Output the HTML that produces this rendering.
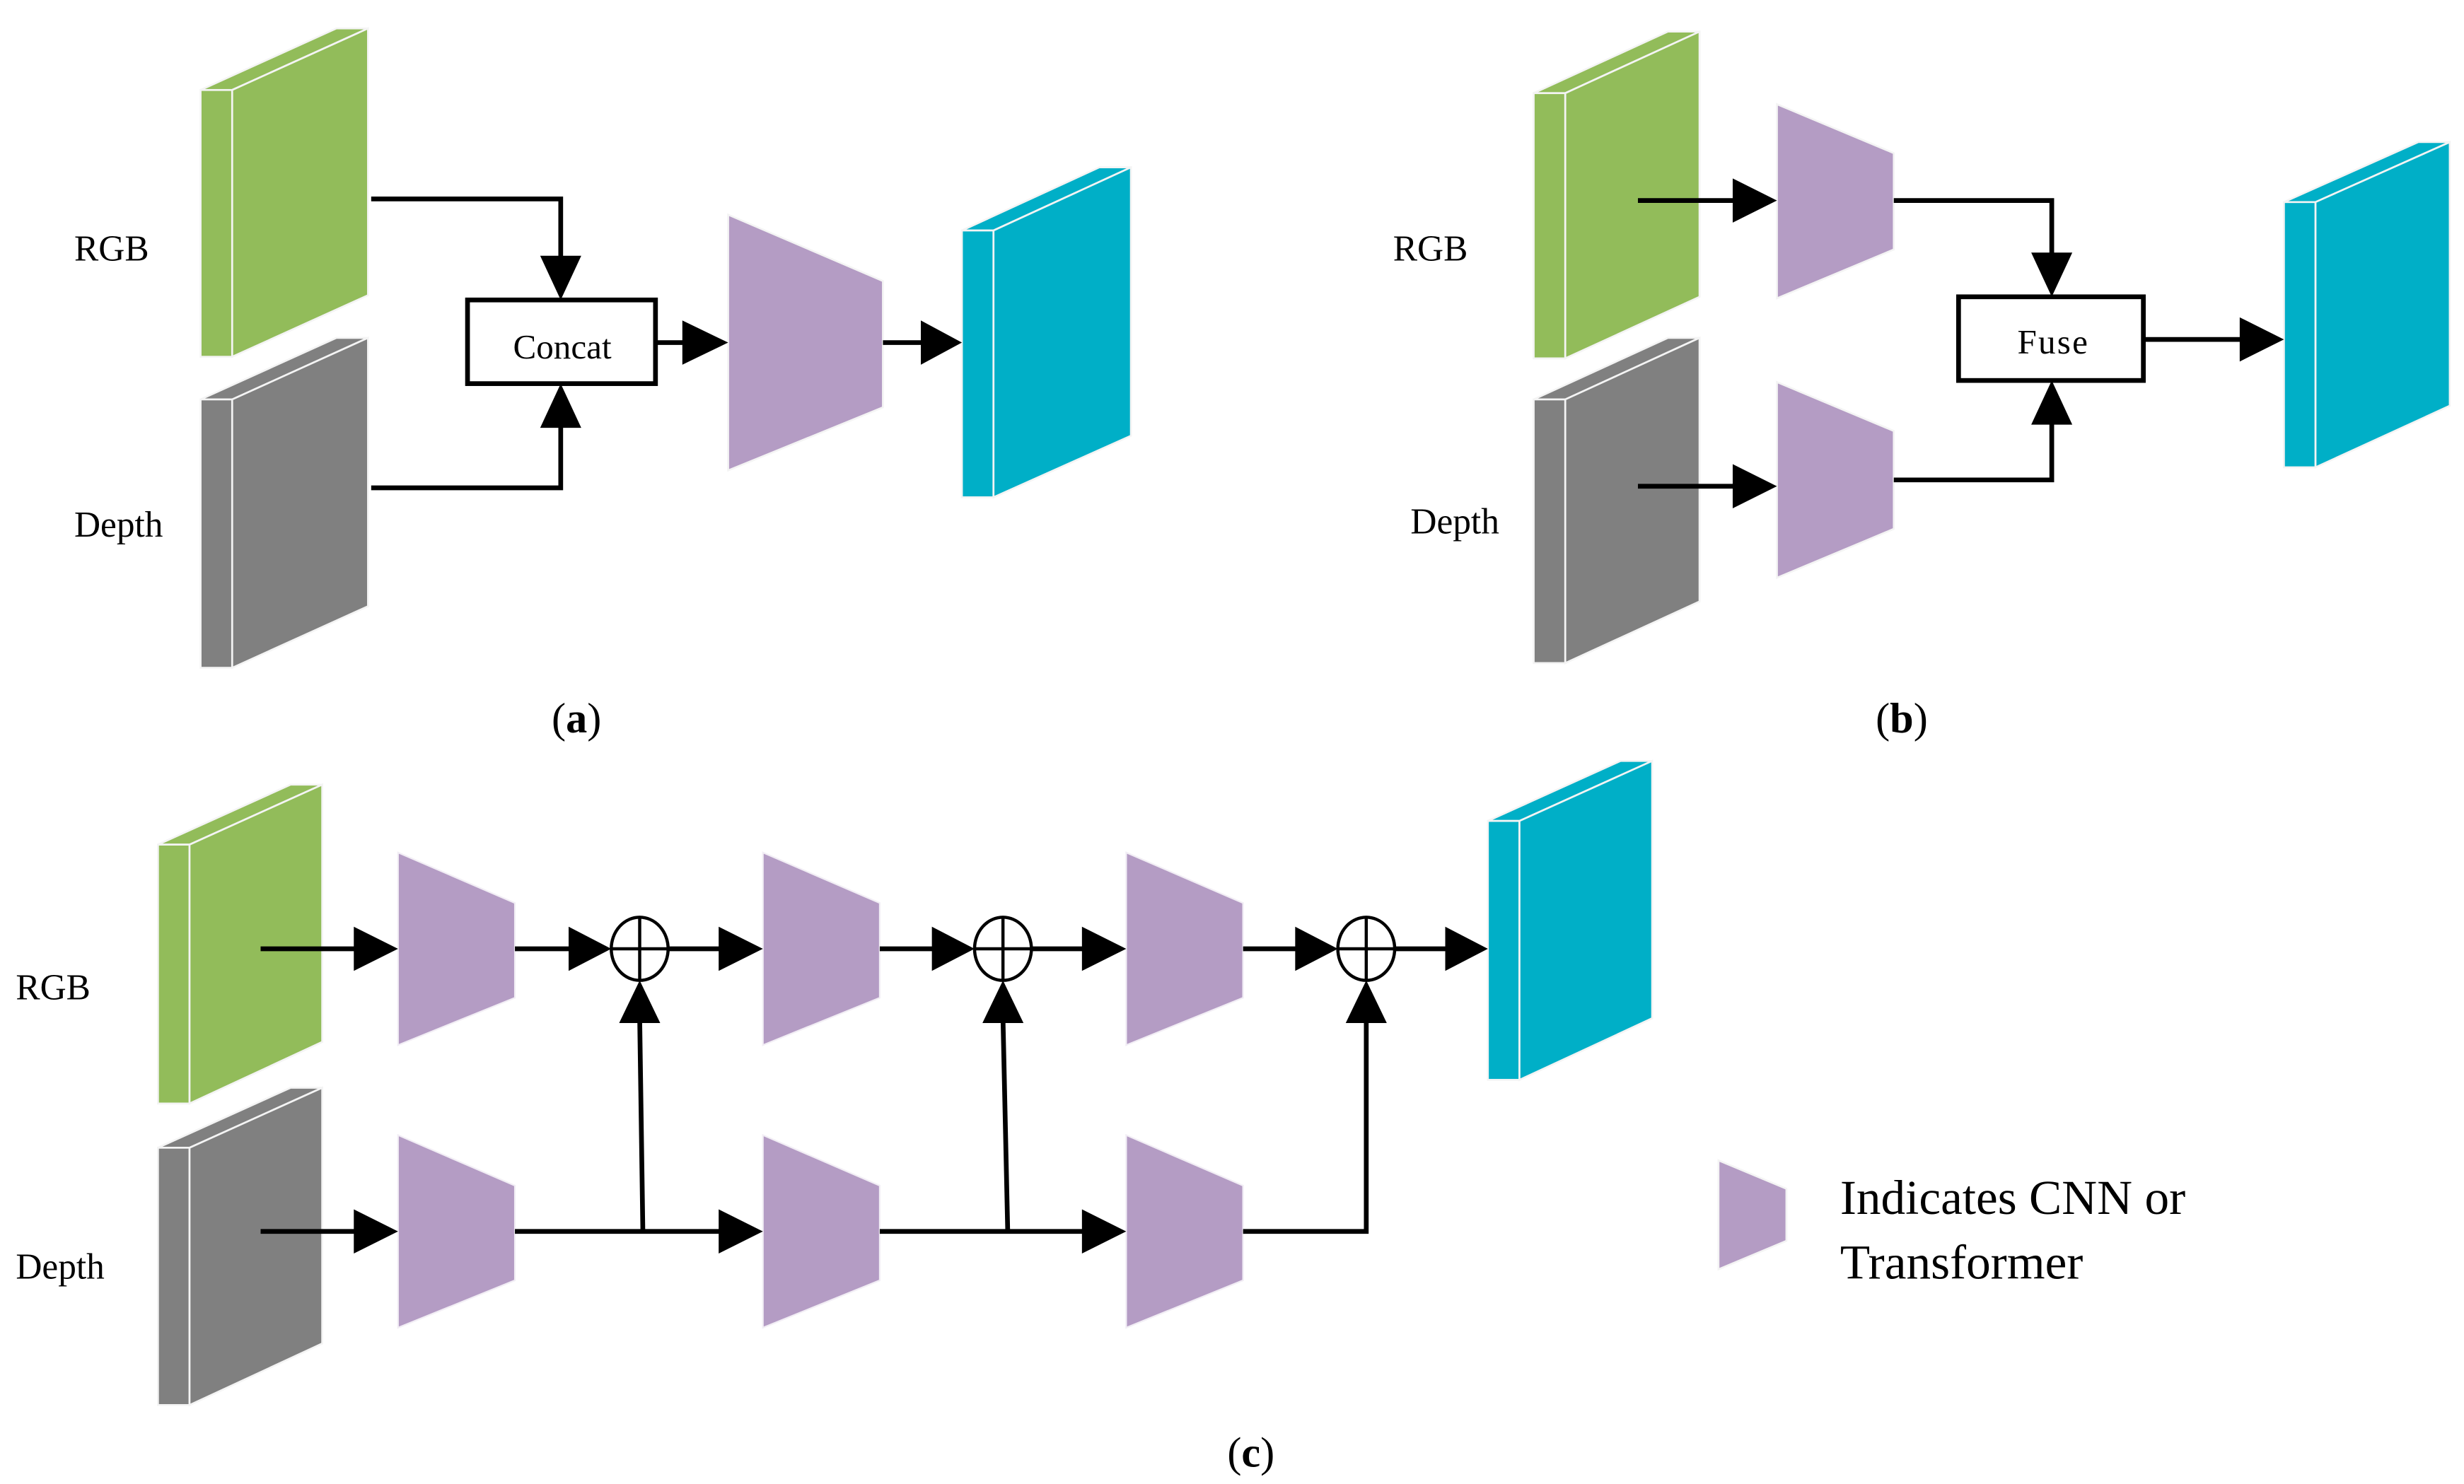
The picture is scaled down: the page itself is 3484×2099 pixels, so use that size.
<!DOCTYPE html>
<html><head><meta charset="utf-8"><style>
html,body{margin:0;padding:0;background:#fff;}
svg{display:block;}
text{font-family:"Liberation Serif",serif;fill:#000;}
</style></head><body>
<svg width="3484" height="2099" viewBox="0 0 1560 940" preserveAspectRatio="none" xmlns="http://www.w3.org/2000/svg">
<defs>
<g id="trapTop"><polygon points="0,0 74,32 74,92 0,122" fill="#b49cc4" stroke="#f2eef5" stroke-width="1"/></g>
</defs>
<g stroke="#f4f4f4" stroke-width="1.2">
<!-- (a) -->
<polygon points="127,57 147,57 233,18 213,18" fill="#92bc5a"/>
<rect x="127" y="57" width="20" height="169" fill="#92bc5a"/>
<polygon points="147,57 233,18 233,187 147,226" fill="#92bc5a"/>
<polygon points="127,253 147,253 233,214 213,214" fill="#808080"/>
<rect x="127" y="253" width="20" height="170" fill="#808080"/>
<polygon points="147,253 233,214 233,384 147,423" fill="#808080"/>
<polygon points="609,146 629,146 716,106 696,106" fill="#00afc7"/>
<rect x="609" y="146" width="20" height="169" fill="#00afc7"/>
<polygon points="629,146 716,106 716,276 629,315" fill="#00afc7"/>
<polygon points="461,136 559,178 559,258 461,298" fill="#b49cc4"/>
<!-- (b) -->
<polygon points="971,59 991,59 1076,20 1056,20" fill="#92bc5a"/>
<rect x="971" y="59" width="20" height="168" fill="#92bc5a"/>
<polygon points="991,59 1076,20 1076,188 991,227" fill="#92bc5a"/>
<polygon points="971,253 991,253 1076,214 1056,214" fill="#808080"/>
<rect x="971" y="253" width="20" height="167" fill="#808080"/>
<polygon points="991,253 1076,214 1076,381 991,420" fill="#808080"/>
<polygon points="1446,128 1466,128 1551,90 1531,90" fill="#00afc7"/>
<rect x="1446" y="128" width="20" height="168" fill="#00afc7"/>
<polygon points="1466,128 1551,90 1551,257 1466,296" fill="#00afc7"/>
<polygon points="1125,66 1199,97 1199,158 1125,189" fill="#b49cc4"/>
<polygon points="1125,242 1199,273 1199,335 1125,366" fill="#b49cc4"/>
<!-- (c) -->
<polygon points="100,535 120,535 204,497 184,497" fill="#92bc5a"/>
<rect x="100" y="535" width="20" height="164" fill="#92bc5a"/>
<polygon points="120,535 204,497 204,660 120,699" fill="#92bc5a"/>
<polygon points="100,727 120,727 204,689 184,689" fill="#808080"/>
<rect x="100" y="727" width="20" height="163" fill="#808080"/>
<polygon points="120,727 204,689 204,851 120,890" fill="#808080"/>
<polygon points="942,520 962,520 1046,482 1026,482" fill="#00afc7"/>
<rect x="942" y="520" width="20" height="164" fill="#00afc7"/>
<polygon points="962,520 1046,482 1046,645 962,684" fill="#00afc7"/>
<polygon points="1088,735 1131,753 1131,786 1088,804" fill="#b49cc4"/>
</g>
<use href="#trapTop" x="252" y="540"/><use href="#trapTop" x="483" y="540"/><use href="#trapTop" x="713" y="540"/>
<use href="#trapTop" x="252" y="719"/><use href="#trapTop" x="483" y="719"/><use href="#trapTop" x="713" y="719"/>

<g stroke="#000" stroke-width="3" fill="none">
<!-- (a) -->
<polyline points="235,126 355,126 355,165"/>
<polyline points="235,309 355,309 355,268"/>
<rect x="296" y="190" width="119" height="53" stroke-width="3"/>
<line x1="415" y1="217" x2="435" y2="217"/>
<line x1="559" y1="217" x2="588" y2="217"/>
<!-- (b) -->
<line x1="1037" y1="127" x2="1100" y2="127"/>
<line x1="1037" y1="308" x2="1100" y2="308"/>
<polyline points="1199,127 1299,127 1299,163"/>
<polyline points="1199,304 1299,304 1299,268"/>
<rect x="1240" y="188" width="117" height="53"/>
<line x1="1357" y1="215" x2="1421" y2="215"/>
<!-- (c) -->
<line x1="165" y1="601" x2="227" y2="601"/>
<line x1="326" y1="601" x2="363" y2="601"/>
<line x1="423" y1="601" x2="458" y2="601"/>
<line x1="557" y1="601" x2="593" y2="601"/>
<line x1="653" y1="601" x2="688" y2="601"/>
<line x1="787" y1="601" x2="823" y2="601"/>
<line x1="883" y1="601" x2="918" y2="601"/>
<line x1="165" y1="780" x2="227" y2="780"/>
<line x1="326" y1="780" x2="458" y2="780"/>
<line x1="557" y1="780" x2="688" y2="780"/>
<polyline points="787,780 865,780 865,645"/>
<line x1="407" y1="780" x2="405" y2="645"/>
<line x1="638" y1="780" x2="635" y2="645"/>
</g>
<g stroke="#000" stroke-width="2" fill="#fff">
<ellipse cx="405" cy="601" rx="18" ry="20"/><line x1="387" y1="601" x2="423" y2="601"/><line x1="405" y1="581" x2="405" y2="621"/>
<ellipse cx="635" cy="601" rx="18" ry="20"/><line x1="617" y1="601" x2="653" y2="601"/><line x1="635" y1="581" x2="635" y2="621"/>
<ellipse cx="865" cy="601" rx="18" ry="20"/><line x1="847" y1="601" x2="883" y2="601"/><line x1="865" y1="581" x2="865" y2="621"/>
</g>
<g fill="#000">
<!-- (a) heads -->
<polygon points="342,162 368,162 355,190"/>
<polygon points="342,271 368,271 355,243"/>
<polygon points="432,203 432,231 461,217"/>
<polygon points="583,203 583,231 609,217"/>
<!-- (b) heads -->
<polygon points="1097,113 1097,141 1125,127"/>
<polygon points="1097,294 1097,322 1125,308"/>
<polygon points="1286,160 1312,160 1299,188"/>
<polygon points="1286,269 1312,269 1299,241"/>
<polygon points="1418,201 1418,229 1446,215"/>
<!-- (c) heads -->
<polygon points="224,587 224,615 252,601"/>
<polygon points="360,587 360,615 387,601"/>
<polygon points="455,587 455,615 483,601"/>
<polygon points="590,587 590,615 617,601"/>
<polygon points="685,587 685,615 713,601"/>
<polygon points="820,587 820,615 847,601"/>
<polygon points="915,587 915,615 942,601"/>
<polygon points="224,766 224,794 252,780"/>
<polygon points="455,766 455,794 483,780"/>
<polygon points="685,766 685,794 713,780"/>
<polygon points="392,648 418,648 405,621"/>
<polygon points="622,648 648,648 635,621"/>
<polygon points="852,648 878,648 865,621"/>
</g>
<g font-size="23">
<text x="47" y="165">RGB</text>
<text x="47" y="340">Depth</text>
<text x="356" y="227" text-anchor="middle" font-size="22">Concat</text>
<text x="882" y="165">RGB</text>
<text x="893" y="338">Depth</text>
<text x="1300" y="224" text-anchor="middle" font-size="22" letter-spacing="1">Fuse</text>
<text x="10" y="633">RGB</text>
<text x="10" y="810">Depth</text>
</g>
<g font-size="27">
<text x="365" y="464" text-anchor="middle">(<tspan font-weight="bold">a</tspan>)</text>
<text x="1204" y="464" text-anchor="middle">(<tspan font-weight="bold">b</tspan>)</text>
<text x="792" y="929" text-anchor="middle">(<tspan font-weight="bold">c</tspan>)</text>
</g>
<g font-size="31">
<text x="1165" y="769">Indicates CNN or</text>
<text x="1165" y="810">Transformer</text>
</g>
</svg>
</body></html>
